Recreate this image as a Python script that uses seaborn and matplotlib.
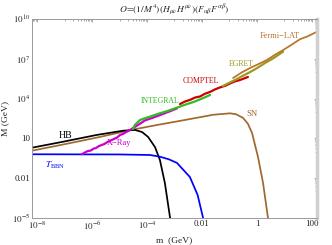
import numpy as np
import pandas as pd
import matplotlib
matplotlib.use("Agg")
import matplotlib.pyplot as plt
import matplotlib.ticker as mticker
import seaborn as sns

# ===== Data (log10 of m and M in GeV) =====
sn_logm = [-8.18, -7.0, -5.8, -4.51, -3.53, -2.8, -1.6, -0.98, -0.76, -0.51, -0.33, -0.18, 0.036, 0.22, 0.4]
sn_logM = [0.075, 0.56, 1.07, 1.67, 2.05, 2.32, 2.78, 2.89, 2.82, 2.55, 2.1, 1.41, -0.40, -2.36, -5.0]

hb_logm = [-8.18, -7.05, -5.83, -4.87, -4.44, -4.18, -3.96, -3.71, -3.53, -3.35, -3.16]
hb_logM = [0.30, 0.75, 1.26, 1.58, 1.64, 1.48, 1.11, 0.35, -0.63, -2.36, -5.0]

bbn_logm = [-8.18, -5.0, -3.89, -3.53, -3.2, -2.91, -2.44, -2.16, -1.96]
bbn_logM = [-0.196, -0.21, -0.25, -0.38, -0.58, -0.85, -1.91, -3.26, -5.0]

xray_logm = [-6.37, -6.25, -6.15, -6.05, -5.95, -5.85, -5.75, -5.65, -5.55, -5.42, -5.3, -5.2, -5.1,
             -4.98, -4.88, -4.76, -4.62, -4.33, -4.07, -3.8, -3.5, -3.2, -2.91]
xray_logM = [-0.20, -0.05, 0.05, 0.08, 0.22, 0.28, 0.42, 0.50, 0.58, 0.75, 0.86, 0.96, 1.05,
             1.26, 1.33, 1.48, 1.63, 2.01, 2.36, 2.55, 2.78, 3.02, 3.26]

integral_logm = [-4.51, -4.44, -4.35, -4.25, -4.1, -3.89, -3.6, -3.28, -2.92, -2.6, -2.3, -2.0, -1.71]
integral_logM = [1.71, 2.01, 2.2, 2.39, 2.5, 2.64, 2.85, 3.05, 3.31, 3.55, 3.75, 4.0, 4.27]

comptel_logm = [-2.8, -2.62, -2.44, -2.25, -2.07, -1.9, -1.71, -1.52, -1.35, -1.15, -0.98, -0.8, -0.62, -0.33]
comptel_logM = [3.59, 3.78, 3.9, 4.08, 4.16, 4.36, 4.5, 4.7, 4.84, 4.97, 5.14, 5.3, 5.4, 5.63]

egret_logm = [-1.24, -1.0, -0.8, -0.55, -0.25, 0.0, 0.29, 0.6, 0.95]
egret_logM = [4.95, 5.2, 5.4, 5.68, 6.0, 6.3, 6.68, 7.05, 7.54]

fermi_logm = [-0.87, -0.55, -0.25, 0.05, 0.36, 0.65, 0.95, 1.25, 1.56, 1.85, 2.18]
fermi_logM = [5.55, 5.98, 6.31, 6.6, 6.91, 7.3, 7.66, 8.05, 8.47, 8.7, 9.04]

curves = [
    ("SN", sn_logm, sn_logM, "#a0672f"),
    ("HB", hb_logm, hb_logM, "black"),
    ("BBN", bbn_logm, bbn_logM, "#0000ff"),
    ("X-Ray", xray_logm, xray_logM, "#cc00cc"),
    ("INTEGRAL", integral_logm, integral_logM, "#33bb22"),
    ("COMPTEL", comptel_logm, comptel_logM, "#cc0000"),
    ("EGRET", egret_logm, egret_logM, "#9c9a1c"),
    ("Fermi-LAT", fermi_logm, fermi_logM, "#b8732f"),
]

# text labels: (text, m, M, colour, size)
labels = [
    ("HB", 1.05e-7, 18, "black", 7),
    ("X\u2212Ray", 1e-5, 4.5, "#cc00cc", 6),
    (r"$T_{\rm BBN}$", 4.5e-8, 0.1, "#0000ff", 6.5),
    ("SN", 0.66, 690, "#a0672f", 6.2),
    ("INTEGRAL", 2.95e-4, 6600, "#33bb22", 5.6),
    ("COMPTEL", 9.1e-3, 2.1e5, "#cc0000", 5.6),
    ("EGRET", 0.26, 4.1e6, "#9c9a1c", 5.6),
    ("Fermi\u2212LAT", 6.9, 5.3e8, "#b8732f", 6.0),
]

sns.set_style("white")
plt.rcParams['font.family'] = 'serif'
plt.rcParams['font.serif'] = ['Liberation Serif', 'DejaVu Serif']
plt.rcParams['mathtext.fontset'] = 'stix'

fig = plt.figure(figsize=(3.32, 2.45), dpi=100)
ax = fig.add_axes([32/332, 1-218/245, 285/332, 199/245])

for name, lm, lM, col in curves:
    df = pd.DataFrame({"m": 10**np.array(lm), "M": 10**np.array(lM)})
    lw = 1.6 if name in ("INTEGRAL", "COMPTEL", "EGRET", "X-Ray") else 1.25
    sns.lineplot(data=df, x="m", y="M", color=col, lw=lw, sort=False, estimator=None, ax=ax)

ax.set_xscale("log")
ax.set_yscale("log")
ax.set_xlim(10**-8.182, 10**2.182)
ax.set_ylim(1e-5, 1e10)

for txt, x, y, col, fs in labels:
    ax.text(x, y, txt, color=col, fontsize=fs, ha="center", va="center")

# ticks, Mathematica style
xmaj = [-8, -6, -4, -2, 0, 2]
ymaj = [-5, -2, 1, 4, 7, 10]
ax.xaxis.set_major_locator(mticker.FixedLocator([10.0**n for n in xmaj]))
ax.yaxis.set_major_locator(mticker.FixedLocator([10.0**n for n in ymaj]))
ax.xaxis.set_minor_locator(mticker.FixedLocator([k * 10.0**(n-1) for n in xmaj for k in range(1, 10)]))
ax.yaxis.set_minor_locator(mticker.FixedLocator([k * 10.0**(n-1) for n in ymaj for k in range(1, 10)]))
ax.set_xticklabels([r"$10^{-8}$", r"$10^{-6}$", r"$10^{-4}$", "0.01", "1", "100"])
ax.set_yticklabels([r"$10^{-5}$", "0.01", "10", r"$10^{4}$", r"$10^{7}$", r"$10^{10}$"])
ax.xaxis.set_minor_formatter(mticker.NullFormatter())
ax.yaxis.set_minor_formatter(mticker.NullFormatter())
ax.tick_params(which="both", direction="in", top=True, right=True, color="#999999", width=0.6,
               labelsize=6.5, pad=1.5)
ax.tick_params(which="major", length=2.5)
ax.tick_params(which="minor", length=1.3)

for s in ["left", "bottom", "top"]:
    ax.spines[s].set_color("#999999")
    ax.spines[s].set_linewidth(0.7)
ax.spines["right"].set_color("#d0d0d0")
ax.spines["right"].set_linewidth(2.5)

ax.set_xlabel("m  (GeV)", fontsize=6.8, labelpad=3)
ax.set_ylabel("M (GeV)", fontsize=6.8, labelpad=2)
ax.set_title(r"$O\!=\!(1/M^4)(H_{\mu\nu}H^{\mu\nu})(F_{\alpha\beta}F^{\alpha\beta})$", fontsize=6.8, pad=5)

fig.savefig("out.png", dpi=100)
